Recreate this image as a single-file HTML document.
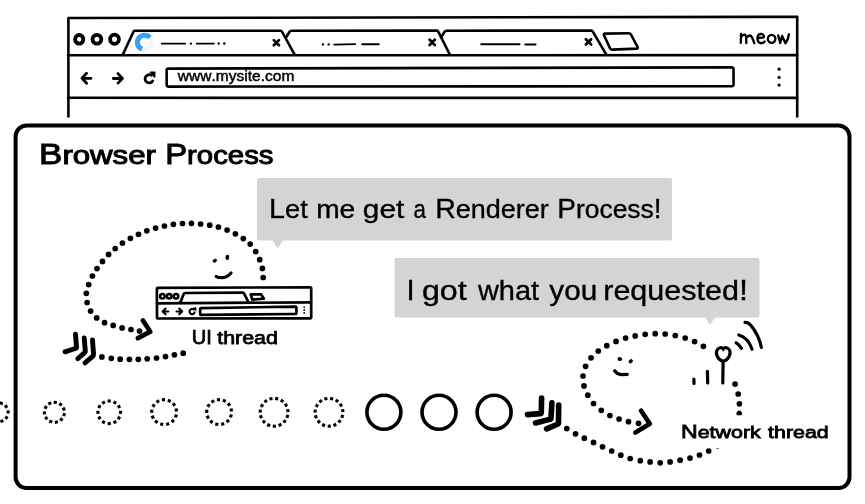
<!DOCTYPE html>
<html><head><meta charset="utf-8"><style>
html,body{margin:0;padding:0;background:#fff;width:865px;height:504px;overflow:hidden}
svg{display:block;will-change:transform}
text{font-family:"Liberation Sans",sans-serif}
</style></head><body>
<svg width="865" height="504" viewBox="0 0 865 504">
<g fill="none" stroke="#000" stroke-width="2.6" stroke-linecap="round" stroke-linejoin="round">
<path d="M68.4,116.5 L68.4,18 L797.2,16.8 L797.2,116.5"/>
<path d="M68,55.3 L797.2,55.1"/>
<path d="M68,97.8 L797.2,97.9"/>
<path d="M122.6,55 L133.6,31.5 Q134,30.8 135,30.8 L280.5,30.8 Q281.6,30.9 282.2,32 L294.6,54.6"/>
<path d="M286,37.6 L289.4,32 Q290.2,30.8 291.5,30.8 L436.8,30.6 Q437.9,30.7 438.4,31.8 L449.8,54.5"/>
<path d="M441,37.4 L444.4,32 Q445.2,30.8 446.5,30.7 L591.2,30.5 Q592.3,30.6 592.8,31.7 L606.3,54.6"/>
<path d="M605.2,33.6 L628.8,33.3 Q630.3,33.3 631,34.6 L637.6,47 Q638.2,48.5 636.5,48.6 L612.3,49.6 Q610.8,49.7 610.1,48.4 L604,35.3 Q603.4,33.7 605.2,33.6 Z"/>
<path d="M168.3,68.6 L731.5,67.4 Q733.4,67.4 733.5,69.3 L733.6,84.3 Q733.6,86.3 731.6,86.3 L168.5,86.6 Q166.7,86.6 166.7,84.8 L166.6,70.3 Q166.6,68.6 168.3,68.6 Z"/>
</g>
<ellipse cx="79.2" cy="39.3" rx="4.1" ry="4.3" fill="none" stroke="#000" stroke-width="3.8"/>
<ellipse cx="96.9" cy="39.3" rx="4.4" ry="4.4" fill="none" stroke="#000" stroke-width="3.8"/>
<ellipse cx="114.5" cy="39.3" rx="4.4" ry="4.6" fill="none" stroke="#000" stroke-width="3.8"/>
<path d="M149.95,37.58 A7.2,7.2 0 1 0 142.14,49.17" fill="none" stroke="#34a3f5" stroke-width="5.0"/>
<path d="M149.95,37.58 A7.2,7.2 0 0 1 142.14,49.17" fill="none" stroke="#f4f4f4" stroke-width="4"/>
<g stroke="#000" stroke-width="1.9" stroke-linecap="round" fill="none">
<path d="M161.8,43.6 L185.2,43.6 M196.7,43.6 L213.8,43.6"/>
<path d="M334.2,44.6 L355.2,44.1 M362.2,44.2 L378.8,44.2"/>
<path d="M481.2,44.3 L519.6,44.3 M525.2,44.5 L535.6,44.5"/>
</g>
<circle cx="190.9" cy="43.6" r="1.2" fill="#000"/>
<circle cx="218.7" cy="43.5" r="1.2" fill="#000"/>
<circle cx="224.3" cy="43.5" r="1.2" fill="#000"/>
<circle cx="323" cy="44.4" r="1.2" fill="#000"/>
<circle cx="328.7" cy="44.4" r="1.2" fill="#000"/>
<g stroke="#000" stroke-width="2.7" stroke-linecap="round">
<path d="M273.79999999999995,40.1 L279.0,45.300000000000004 M279.0,40.1 L273.79999999999995,45.300000000000004"/>
<path d="M429.59999999999997,39.8 L434.8,45.0 M434.8,39.8 L429.59999999999997,45.0"/>
<path d="M585.9,39.3 L591.1,44.5 M591.1,39.3 L585.9,44.5"/>
</g>
<g stroke="#000" stroke-width="2.8" stroke-linecap="round" stroke-linejoin="round" fill="none">
<path d="M86.6,73.3 L82,78.3 L86.6,83.2 M82,78.3 L91,78.3"/>
<path d="M118,73.6 L122.4,78.5 L118,83.1 M122.4,78.5 L113.3,78.5"/>
<path d="M151.25,75.25 A4.1,4.1 0 1 0 152.75,80.85"/>
</g>
<path d="M150.5,72.3 L154.8,72.2 L154.6,77 Z" fill="#000" stroke="#000" stroke-width="1.5" stroke-linejoin="round"/>
<circle cx="779.1" cy="69.2" r="1.6" fill="#000"/>
<circle cx="779.1" cy="77.4" r="1.6" fill="#000"/>
<circle cx="779.1" cy="85.1" r="1.6" fill="#000"/>
<g fill="none" stroke="#000" stroke-width="2.35" stroke-linecap="round" stroke-linejoin="round">
<path d="M741,34 L740.8,42.8 M741.1,37.2 Q742.8,34.3 744.9,34.6 Q746.4,35.2 746.3,43 M746.4,37.6 Q748.4,35.1 750.4,35.6 Q752.2,36.8 754.3,43.2"/>
<path d="M758.6,38 L763.8,37.3 Q764.5,34.6 761.2,33.9 Q757.5,33.9 757.4,38.5 Q757.6,43.2 761.5,43.2 Q763.5,43 764.6,41.5"/>
<ellipse cx="771.6" cy="38.8" rx="3.8" ry="4"/>
<path d="M778.2,35.5 L780.2,43 L782.1,36 L785.5,43.3 Q788,40 789,34.3"/>
</g>
<rect x="15.6" y="125.5" width="833.9" height="362.6" rx="11" ry="11" fill="#fff" stroke="#000" stroke-width="4"/>
<path d="M259,177.9 L670,177.9 Q672,177.9 672,179.9 L672,238.5 Q672,240.5 670,240.5 L283,240.5 L277.8,248.4 L272.6,240.5 L259,240.5 Q257,240.5 257,238.5 L257,179.9 Q257,177.9 259,177.9 Z" fill="#d4d4d4"/>
<path d="M396.5,258 L757.5,258 Q759.5,258 759.5,260 L759.5,315.5 Q759.5,317.5 757.5,317.5 L714.8,317.5 L710,325 L705.2,317.5 L396.5,317.5 Q394.5,317.5 394.5,315.5 L394.5,260 Q394.5,258 396.5,258 Z" fill="#d4d4d4"/>
<g font-family="Liberation Sans" fill="#000" style="font-kerning:none">
<text x="269.12" y="217.9" textLength="38.60" lengthAdjust="spacingAndGlyphs" stroke="#000" stroke-width="0.35"><tspan font-size="27.9">L</tspan><tspan font-size="26.4">et</tspan></text>
<text x="316.21" y="217.9" textLength="39.07" lengthAdjust="spacingAndGlyphs" stroke="#000" stroke-width="0.35"><tspan font-size="26.4">me</tspan></text>
<text x="362.82" y="217.9" textLength="41.42" lengthAdjust="spacingAndGlyphs" stroke="#000" stroke-width="0.35"><tspan font-size="26.4">get</tspan></text>
<text x="413.53" y="217.9" textLength="12.40" lengthAdjust="spacingAndGlyphs" stroke="#000" stroke-width="0.35"><tspan font-size="26.4">a</tspan></text>
<text x="435.23" y="217.9" textLength="113.64" lengthAdjust="spacingAndGlyphs" stroke="#000" stroke-width="0.35"><tspan font-size="27.9">R</tspan><tspan font-size="26.4">enderer</tspan></text>
<text x="557.28" y="217.9" textLength="104.28" lengthAdjust="spacingAndGlyphs" stroke="#000" stroke-width="0.35"><tspan font-size="27.9">P</tspan><tspan font-size="26.4">rocess</tspan><tspan font-size="27.9">!</tspan></text>
<text x="406.44" y="299.5" font-size="29.2" stroke="#000" stroke-width="0.35">I</text>
<text x="421.92" y="299.5" textLength="44.74" lengthAdjust="spacingAndGlyphs" stroke="#000" stroke-width="0.35"><tspan font-size="27.3">got</tspan></text>
<text x="477.92" y="299.5" textLength="61.22" lengthAdjust="spacingAndGlyphs" stroke="#000" stroke-width="0.35"><tspan font-size="27.3">what</tspan></text>
<text x="549.30" y="299.5" textLength="47.90" lengthAdjust="spacingAndGlyphs" stroke="#000" stroke-width="0.35"><tspan font-size="27.3">you</tspan></text>
<text x="603.25" y="299.5" textLength="144.74" lengthAdjust="spacingAndGlyphs" stroke="#000" stroke-width="0.35"><tspan font-size="27.3">requested</tspan><tspan font-size="29.2">!</tspan></text>
<text x="39.14" y="164.3" textLength="116.78" lengthAdjust="spacingAndGlyphs" stroke="#000" stroke-width="1.0"><tspan font-size="29.2">B</tspan><tspan font-size="26.1">rowser</tspan></text>
<text x="165.21" y="164.3" textLength="108.35" lengthAdjust="spacingAndGlyphs" stroke="#000" stroke-width="1.0"><tspan font-size="29.2">P</tspan><tspan font-size="26.1">rocess</tspan></text>
<text x="191.73" y="343.9" textLength="20.05" lengthAdjust="spacingAndGlyphs" stroke="#000" stroke-width="0.75"><tspan font-size="19.9">UI</tspan></text>
<text x="217.25" y="343.9" textLength="60.65" lengthAdjust="spacingAndGlyphs" stroke="#000" stroke-width="0.75"><tspan font-size="18.3">thread</tspan></text>
<text x="681.01" y="438" textLength="79.76" lengthAdjust="spacingAndGlyphs" stroke="#000" stroke-width="0.8"><tspan font-size="18.75">N</tspan><tspan font-size="17.4">etwork</tspan></text>
<text x="768.08" y="438" textLength="60.70" lengthAdjust="spacingAndGlyphs" stroke="#000" stroke-width="0.8"><tspan font-size="17.4">thread</tspan></text>
<text x="177.85" y="81.1" font-size="14.4" textLength="116.55" lengthAdjust="spacingAndGlyphs" stroke="#000" stroke-width="0.45">www.mysite.com</text>
</g>
<circle cx="263.2" cy="277.5" r="2.85" fill="#000"/>
<circle cx="262.4" cy="268.4" r="2.85" fill="#000"/>
<circle cx="259.7" cy="259.7" r="2.85" fill="#000"/>
<circle cx="255.7" cy="251.6" r="2.85" fill="#000"/>
<circle cx="250.2" cy="244.1" r="2.85" fill="#000"/>
<circle cx="243.3" cy="238.6" r="2.85" fill="#000"/>
<circle cx="235.4" cy="233.8" r="2.85" fill="#000"/>
<circle cx="227.1" cy="230" r="2.85" fill="#000"/>
<circle cx="218.4" cy="227.1" r="2.85" fill="#000"/>
<circle cx="209.7" cy="225.2" r="2.85" fill="#000"/>
<circle cx="200.6" cy="224" r="2.85" fill="#000"/>
<circle cx="191.4" cy="223.3" r="2.85" fill="#000"/>
<circle cx="182.5" cy="223.5" r="2.85" fill="#000"/>
<circle cx="173.4" cy="224.3" r="2.85" fill="#000"/>
<circle cx="164.4" cy="226" r="2.85" fill="#000"/>
<circle cx="155.6" cy="228.1" r="2.85" fill="#000"/>
<circle cx="146.8" cy="230.8" r="2.85" fill="#000"/>
<circle cx="138.5" cy="234.3" r="2.85" fill="#000"/>
<circle cx="130.4" cy="238.3" r="2.85" fill="#000"/>
<circle cx="122.4" cy="243.1" r="2.85" fill="#000"/>
<circle cx="115.2" cy="248.5" r="2.85" fill="#000"/>
<circle cx="108.6" cy="254.4" r="2.85" fill="#000"/>
<circle cx="102.5" cy="261.4" r="2.85" fill="#000"/>
<circle cx="97" cy="268.6" r="2.85" fill="#000"/>
<circle cx="92.4" cy="276" r="2.85" fill="#000"/>
<circle cx="88.7" cy="284.6" r="2.85" fill="#000"/>
<circle cx="86.3" cy="293.3" r="2.85" fill="#000"/>
<circle cx="87.1" cy="302.5" r="2.85" fill="#000"/>
<circle cx="90.6" cy="311.1" r="2.85" fill="#000"/>
<circle cx="96.7" cy="317.9" r="2.85" fill="#000"/>
<circle cx="104.6" cy="322.7" r="2.85" fill="#000"/>
<circle cx="113.2" cy="325.4" r="2.85" fill="#000"/>
<circle cx="122.1" cy="327.9" r="2.85" fill="#000"/>
<circle cx="131" cy="329.5" r="2.85" fill="#000"/>
<circle cx="139.5" cy="331.1" r="2.85" fill="#000"/>
<circle cx="101.9" cy="356.9" r="2.85" fill="#000"/>
<circle cx="111.3" cy="358.3" r="2.85" fill="#000"/>
<circle cx="120.2" cy="359.2" r="2.85" fill="#000"/>
<circle cx="129.4" cy="359.3" r="2.85" fill="#000"/>
<circle cx="138.3" cy="359.3" r="2.85" fill="#000"/>
<circle cx="147.2" cy="358.8" r="2.85" fill="#000"/>
<circle cx="156.5" cy="358" r="2.85" fill="#000"/>
<circle cx="165.5" cy="356.6" r="2.85" fill="#000"/>
<circle cx="174.4" cy="354.8" r="2.85" fill="#000"/>
<circle cx="183.2" cy="353.2" r="2.85" fill="#000"/>
<circle cx="703.4" cy="346.3" r="2.85" fill="#000"/>
<circle cx="694.6" cy="341.6" r="2.85" fill="#000"/>
<circle cx="685.2" cy="338" r="2.85" fill="#000"/>
<circle cx="675.3" cy="335.5" r="2.85" fill="#000"/>
<circle cx="665.2" cy="334" r="2.85" fill="#000"/>
<circle cx="655.2" cy="333.7" r="2.85" fill="#000"/>
<circle cx="645.2" cy="334.3" r="2.85" fill="#000"/>
<circle cx="635.2" cy="335.9" r="2.85" fill="#000"/>
<circle cx="625.6" cy="338.1" r="2.85" fill="#000"/>
<circle cx="616" cy="341.4" r="2.85" fill="#000"/>
<circle cx="606.8" cy="345.7" r="2.85" fill="#000"/>
<circle cx="598.3" cy="351" r="2.85" fill="#000"/>
<circle cx="591" cy="357.8" r="2.85" fill="#000"/>
<circle cx="585.6" cy="366.3" r="2.85" fill="#000"/>
<circle cx="583" cy="376" r="2.85" fill="#000"/>
<circle cx="584" cy="385.9" r="2.85" fill="#000"/>
<circle cx="587.8" cy="395.2" r="2.85" fill="#000"/>
<circle cx="593.5" cy="403.5" r="2.85" fill="#000"/>
<circle cx="601.3" cy="410.3" r="2.85" fill="#000"/>
<circle cx="609.9" cy="415.5" r="2.85" fill="#000"/>
<circle cx="619.1" cy="419.1" r="2.85" fill="#000"/>
<circle cx="628.5" cy="421.7" r="2.85" fill="#000"/>
<circle cx="638.5" cy="423.3" r="2.85" fill="#000"/>
<circle cx="566.8" cy="428.6" r="2.85" fill="#000"/>
<circle cx="575.5" cy="433.8" r="2.85" fill="#000"/>
<circle cx="584.3" cy="438.2" r="2.85" fill="#000"/>
<circle cx="593.5" cy="442.4" r="2.85" fill="#000"/>
<circle cx="602.5" cy="446.8" r="2.85" fill="#000"/>
<circle cx="611.7" cy="451" r="2.85" fill="#000"/>
<circle cx="620.8" cy="455.2" r="2.85" fill="#000"/>
<circle cx="630.2" cy="458.5" r="2.85" fill="#000"/>
<circle cx="640.3" cy="460.7" r="2.85" fill="#000"/>
<circle cx="650.1" cy="461.9" r="2.85" fill="#000"/>
<circle cx="660.2" cy="462.8" r="2.85" fill="#000"/>
<circle cx="670.1" cy="461.9" r="2.85" fill="#000"/>
<circle cx="680.1" cy="460.2" r="2.85" fill="#000"/>
<circle cx="690" cy="458.1" r="2.85" fill="#000"/>
<circle cx="699.5" cy="455" r="2.85" fill="#000"/>
<circle cx="708.7" cy="451" r="2.85" fill="#000"/>
<ellipse cx="717.6" cy="448.4" rx="1.6" ry="0.55" fill="#777"/>
<circle cx="735.1" cy="384.1" r="2.85" fill="#000"/>
<circle cx="738.2" cy="394" r="2.85" fill="#000"/>
<circle cx="739.4" cy="403.8" r="2.85" fill="#000"/>
<path d="M736.85,415.3 A2.9,2.9 0 1 1 741.55,415.3 Z" fill="#000"/>
<g stroke="#000" stroke-width="4.7" stroke-linecap="round" stroke-linejoin="round" fill="none">
<path d="M142.9,320.5 L150.3,331.7 L137.9,338.2"/>
<path d="M641.1,410.8 L649.8,423.8 L635.4,432.5"/>
</g>
<g stroke="#000" stroke-width="4.9" stroke-linecap="round" stroke-linejoin="round" fill="none">
<path d="M75.5,334.3 L76.5,347 Q76.6,348.3 75.2,348.5 L65,351.8"/>
<path d="M84.2,337.9 L85.3,351 Q85.4,352 84.6,352.7 L77.8,358.6"/>
<path d="M92.5,339.9 L93.6,354.5 Q93.7,355.5 92.9,356.2 L85,362.9"/>
</g>
<g stroke="#000" stroke-width="5.6" stroke-linecap="round" stroke-linejoin="round" fill="none">
<path d="M541.6,398 L541.3,412.4 Q541.2,413.5 540,413.6 L527.5,414.6"/>
<path d="M551.9,402.7 L551,418 Q550.9,419.2 549.7,419.4 L535.5,423"/>
<path d="M558.7,405.1 L558.5,422.7 Q558.5,423.8 557.4,424.2 L546.6,428.9"/>
</g>
<rect x="-0.26" y="401.71" width="3.1" height="3.1" fill="#000" transform="rotate(-74.0 1.29 403.26)"/>
<rect x="4.56" y="404.96" width="3.1" height="3.1" fill="#000" transform="rotate(-38.0 6.11 406.51)"/>
<rect x="6.54" y="410.42" width="3.1" height="3.1" fill="#000" transform="rotate(-2.0 8.09 411.97)"/>
<rect x="4.94" y="416.01" width="3.1" height="3.1" fill="#000" transform="rotate(34.0 6.49 417.56)"/>
<rect x="0.36" y="419.58" width="3.1" height="3.1" fill="#000" transform="rotate(70.0 1.91 421.13)"/>
<rect x="-5.44" y="419.79" width="3.1" height="3.1" fill="#000" transform="rotate(106.0 -3.89 421.34)"/>
<rect x="-10.26" y="416.54" width="3.1" height="3.1" fill="#000" transform="rotate(142.0 -8.71 418.09)"/>
<rect x="-12.24" y="411.08" width="3.1" height="3.1" fill="#000" transform="rotate(178.0 -10.69 412.63)"/>
<rect x="-10.64" y="405.49" width="3.1" height="3.1" fill="#000" transform="rotate(214.0 -9.09 407.04)"/>
<rect x="-6.06" y="401.92" width="3.1" height="3.1" fill="#000" transform="rotate(250.0 -4.51 403.47)"/>
<rect x="53.72" y="400.79" width="3.1" height="3.1" fill="#000" transform="rotate(-85.0 55.27 402.34)"/>
<rect x="58.97" y="402.84" width="3.1" height="3.1" fill="#000" transform="rotate(-52.3 60.52 404.39)"/>
<rect x="62.27" y="407.40" width="3.1" height="3.1" fill="#000" transform="rotate(-19.5 63.82 408.95)"/>
<rect x="62.59" y="413.03" width="3.1" height="3.1" fill="#000" transform="rotate(13.2 64.14 414.58)"/>
<rect x="59.81" y="417.93" width="3.1" height="3.1" fill="#000" transform="rotate(45.9 61.36 419.48)"/>
<rect x="54.82" y="420.55" width="3.1" height="3.1" fill="#000" transform="rotate(78.6 56.37 422.10)"/>
<rect x="49.21" y="420.06" width="3.1" height="3.1" fill="#000" transform="rotate(111.4 50.76 421.61)"/>
<rect x="44.75" y="416.62" width="3.1" height="3.1" fill="#000" transform="rotate(144.1 46.30 418.17)"/>
<rect x="42.87" y="411.31" width="3.1" height="3.1" fill="#000" transform="rotate(176.8 44.42 412.86)"/>
<rect x="44.15" y="405.82" width="3.1" height="3.1" fill="#000" transform="rotate(209.5 45.70 407.37)"/>
<rect x="48.20" y="401.90" width="3.1" height="3.1" fill="#000" transform="rotate(242.3 49.75 403.45)"/>
<rect x="107.65" y="399.45" width="3.1" height="3.1" fill="#000" transform="rotate(-90.0 109.20 401.00)"/>
<rect x="113.30" y="400.96" width="3.1" height="3.1" fill="#000" transform="rotate(-60.0 114.85 402.51)"/>
<rect x="117.44" y="405.10" width="3.1" height="3.1" fill="#000" transform="rotate(-30.0 118.99 406.65)"/>
<rect x="118.95" y="410.75" width="3.1" height="3.1" fill="#000" transform="rotate(0.0 120.50 412.30)"/>
<rect x="117.44" y="416.40" width="3.1" height="3.1" fill="#000" transform="rotate(30.0 118.99 417.95)"/>
<rect x="113.30" y="420.54" width="3.1" height="3.1" fill="#000" transform="rotate(60.0 114.85 422.09)"/>
<rect x="107.65" y="422.05" width="3.1" height="3.1" fill="#000" transform="rotate(90.0 109.20 423.60)"/>
<rect x="102.00" y="420.54" width="3.1" height="3.1" fill="#000" transform="rotate(120.0 103.55 422.09)"/>
<rect x="97.86" y="416.40" width="3.1" height="3.1" fill="#000" transform="rotate(150.0 99.41 417.95)"/>
<rect x="96.35" y="410.75" width="3.1" height="3.1" fill="#000" transform="rotate(180.0 97.90 412.30)"/>
<rect x="97.86" y="405.10" width="3.1" height="3.1" fill="#000" transform="rotate(210.0 99.41 406.65)"/>
<rect x="102.00" y="400.96" width="3.1" height="3.1" fill="#000" transform="rotate(240.0 103.55 402.51)"/>
<rect x="161.90" y="398.17" width="3.1" height="3.1" fill="#000" transform="rotate(-93.0 163.45 399.72)"/>
<rect x="167.73" y="399.28" width="3.1" height="3.1" fill="#000" transform="rotate(-65.3 169.28 400.83)"/>
<rect x="172.37" y="402.98" width="3.1" height="3.1" fill="#000" transform="rotate(-37.6 173.92 404.53)"/>
<rect x="174.76" y="408.41" width="3.1" height="3.1" fill="#000" transform="rotate(-9.9 176.31 409.96)"/>
<rect x="174.36" y="414.33" width="3.1" height="3.1" fill="#000" transform="rotate(17.8 175.91 415.88)"/>
<rect x="171.25" y="419.39" width="3.1" height="3.1" fill="#000" transform="rotate(45.5 172.80 420.94)"/>
<rect x="166.14" y="422.42" width="3.1" height="3.1" fill="#000" transform="rotate(73.2 167.69 423.97)"/>
<rect x="160.22" y="422.73" width="3.1" height="3.1" fill="#000" transform="rotate(100.8 161.77 424.28)"/>
<rect x="154.82" y="420.25" width="3.1" height="3.1" fill="#000" transform="rotate(128.5 156.37 421.80)"/>
<rect x="151.20" y="415.55" width="3.1" height="3.1" fill="#000" transform="rotate(156.2 152.75 417.10)"/>
<rect x="150.18" y="409.70" width="3.1" height="3.1" fill="#000" transform="rotate(183.9 151.73 411.25)"/>
<rect x="151.99" y="404.05" width="3.1" height="3.1" fill="#000" transform="rotate(211.6 153.54 405.60)"/>
<rect x="156.22" y="399.89" width="3.1" height="3.1" fill="#000" transform="rotate(239.3 157.77 401.44)"/>
<rect x="216.90" y="398.17" width="3.1" height="3.1" fill="#000" transform="rotate(-93.0 218.45 399.72)"/>
<rect x="222.73" y="399.28" width="3.1" height="3.1" fill="#000" transform="rotate(-65.3 224.28 400.83)"/>
<rect x="227.37" y="402.98" width="3.1" height="3.1" fill="#000" transform="rotate(-37.6 228.92 404.53)"/>
<rect x="229.76" y="408.41" width="3.1" height="3.1" fill="#000" transform="rotate(-9.9 231.31 409.96)"/>
<rect x="229.36" y="414.33" width="3.1" height="3.1" fill="#000" transform="rotate(17.8 230.91 415.88)"/>
<rect x="226.25" y="419.39" width="3.1" height="3.1" fill="#000" transform="rotate(45.5 227.80 420.94)"/>
<rect x="221.14" y="422.42" width="3.1" height="3.1" fill="#000" transform="rotate(73.2 222.69 423.97)"/>
<rect x="215.22" y="422.73" width="3.1" height="3.1" fill="#000" transform="rotate(100.8 216.77 424.28)"/>
<rect x="209.82" y="420.25" width="3.1" height="3.1" fill="#000" transform="rotate(128.5 211.37 421.80)"/>
<rect x="206.20" y="415.55" width="3.1" height="3.1" fill="#000" transform="rotate(156.2 207.75 417.10)"/>
<rect x="205.18" y="409.70" width="3.1" height="3.1" fill="#000" transform="rotate(183.9 206.73 411.25)"/>
<rect x="206.99" y="404.05" width="3.1" height="3.1" fill="#000" transform="rotate(211.6 208.54 405.60)"/>
<rect x="211.22" y="399.89" width="3.1" height="3.1" fill="#000" transform="rotate(239.3 212.77 401.44)"/>
<rect x="275.20" y="397.11" width="3.1" height="3.1" fill="#000" transform="rotate(-79.0 276.75 398.66)"/>
<rect x="280.52" y="399.36" width="3.1" height="3.1" fill="#000" transform="rotate(-55.0 282.07 400.91)"/>
<rect x="284.46" y="403.59" width="3.1" height="3.1" fill="#000" transform="rotate(-31.0 286.01 405.14)"/>
<rect x="286.35" y="409.06" width="3.1" height="3.1" fill="#000" transform="rotate(-7.0 287.90 410.61)"/>
<rect x="285.84" y="414.81" width="3.1" height="3.1" fill="#000" transform="rotate(17.0 287.39 416.36)"/>
<rect x="283.04" y="419.87" width="3.1" height="3.1" fill="#000" transform="rotate(41.0 284.59 421.42)"/>
<rect x="278.42" y="423.35" width="3.1" height="3.1" fill="#000" transform="rotate(65.0 279.97 424.90)"/>
<rect x="272.79" y="424.65" width="3.1" height="3.1" fill="#000" transform="rotate(89.0 274.34 426.20)"/>
<rect x="267.12" y="423.55" width="3.1" height="3.1" fill="#000" transform="rotate(113.0 268.67 425.10)"/>
<rect x="262.38" y="420.23" width="3.1" height="3.1" fill="#000" transform="rotate(137.0 263.93 421.78)"/>
<rect x="259.41" y="415.28" width="3.1" height="3.1" fill="#000" transform="rotate(161.0 260.96 416.83)"/>
<rect x="258.70" y="409.54" width="3.1" height="3.1" fill="#000" transform="rotate(185.0 260.25 411.09)"/>
<rect x="260.39" y="404.01" width="3.1" height="3.1" fill="#000" transform="rotate(209.0 261.94 405.56)"/>
<rect x="264.18" y="399.65" width="3.1" height="3.1" fill="#000" transform="rotate(233.0 265.73 401.20)"/>
<rect x="269.42" y="397.21" width="3.1" height="3.1" fill="#000" transform="rotate(257.0 270.97 398.76)"/>
<rect x="330.10" y="397.11" width="3.1" height="3.1" fill="#000" transform="rotate(-79.0 331.65 398.66)"/>
<rect x="335.42" y="399.36" width="3.1" height="3.1" fill="#000" transform="rotate(-55.0 336.97 400.91)"/>
<rect x="339.36" y="403.59" width="3.1" height="3.1" fill="#000" transform="rotate(-31.0 340.91 405.14)"/>
<rect x="341.25" y="409.06" width="3.1" height="3.1" fill="#000" transform="rotate(-7.0 342.80 410.61)"/>
<rect x="340.74" y="414.81" width="3.1" height="3.1" fill="#000" transform="rotate(17.0 342.29 416.36)"/>
<rect x="337.94" y="419.87" width="3.1" height="3.1" fill="#000" transform="rotate(41.0 339.49 421.42)"/>
<rect x="333.32" y="423.35" width="3.1" height="3.1" fill="#000" transform="rotate(65.0 334.87 424.90)"/>
<rect x="327.69" y="424.65" width="3.1" height="3.1" fill="#000" transform="rotate(89.0 329.24 426.20)"/>
<rect x="322.02" y="423.55" width="3.1" height="3.1" fill="#000" transform="rotate(113.0 323.57 425.10)"/>
<rect x="317.28" y="420.23" width="3.1" height="3.1" fill="#000" transform="rotate(137.0 318.83 421.78)"/>
<rect x="314.31" y="415.28" width="3.1" height="3.1" fill="#000" transform="rotate(161.0 315.86 416.83)"/>
<rect x="313.60" y="409.54" width="3.1" height="3.1" fill="#000" transform="rotate(185.0 315.15 411.09)"/>
<rect x="315.29" y="404.01" width="3.1" height="3.1" fill="#000" transform="rotate(209.0 316.84 405.56)"/>
<rect x="319.08" y="399.65" width="3.1" height="3.1" fill="#000" transform="rotate(233.0 320.63 401.20)"/>
<rect x="324.32" y="397.21" width="3.1" height="3.1" fill="#000" transform="rotate(257.0 325.87 398.76)"/>
<circle cx="383.9" cy="412.2" r="17" fill="none" stroke="#000" stroke-width="3.6"/>
<circle cx="439" cy="412.2" r="17" fill="none" stroke="#000" stroke-width="3.6"/>
<circle cx="494.1" cy="412.2" r="17" fill="none" stroke="#000" stroke-width="3.6"/>
<g fill="none" stroke="#000" stroke-width="2.7" stroke-linecap="round" stroke-linejoin="round">
<path d="M157.6,287.8 L310,287.3 Q311.2,287.3 311.2,288.5 L311.2,317.2 Q311.2,318.3 310,318.3 L158.2,318.5 Q157,318.5 157,317.3 L156.9,289 Q156.9,287.8 157.6,287.8 Z"/>
<path d="M157,303.3 L311,302.4"/>
<path d="M180.2,302.8 L183.6,294.3 Q184.1,293 185.4,293 L242.5,292.7 Q243.6,292.7 244.1,293.7 L248.3,301.8"/>
<path d="M201.2,308.1 L295.2,306.6 Q296.4,306.6 296.4,307.8 L296.4,312.8 Q296.4,314 295.2,314 L201.4,314.9 Q200.2,314.9 200.2,313.7 L200.1,309.3 Q200.1,308.1 201.2,308.1 Z"/>
</g>
<path d="M250.7,294.4 L261.1,294.3 L263.9,298.6 L252.3,299.6 Z" fill="none" stroke="#000" stroke-width="2.6" stroke-linejoin="round"/>
<circle cx="162.4" cy="296.3" r="2.3" fill="none" stroke="#000" stroke-width="2.5"/>
<circle cx="169.2" cy="296.3" r="2.3" fill="none" stroke="#000" stroke-width="2.5"/>
<circle cx="176" cy="296.3" r="2.3" fill="none" stroke="#000" stroke-width="2.5"/>
<g stroke="#000" stroke-width="2.1" stroke-linecap="round" stroke-linejoin="round" fill="none">
<path d="M165.6,308.6 L162.6,311.5 L165.6,314.3 M162.6,311.5 L168.3,311.5"/>
<path d="M179.2,308.6 L182.2,311.5 L179.2,314.3 M182.2,311.5 L176.5,311.5"/>
<path d="M193.6,309.4 A2.6,2.6 0 1 0 194.6,312.4"/>
</g>
<path d="M193.3,308 L196,307.8 L195.8,310.6 Z" fill="#000" stroke="#000" stroke-width="1"/>
<circle cx="304.2" cy="307.1" r="0.95" fill="#000"/>
<circle cx="304.2" cy="310" r="0.95" fill="#000"/>
<circle cx="304.2" cy="312.9" r="0.95" fill="#000"/>
<g stroke="#000" stroke-linecap="round" fill="none">
<path d="M214.3,261 L215.3,260.4" stroke-width="3.3"/>
<path d="M227.4,256.6 L227.2,258.3" stroke-width="3.5"/>
<path d="M216.2,276.4 Q218,277.8 222.5,277.7 Q227.5,277.3 231,273" stroke-width="3.2"/>
<path d="M619.4,359 L620.2,359.1" stroke-width="3.9"/>
<path d="M630.4,361.6 L631.1,360.9" stroke-width="3.6"/>
<path d="M614.7,370.9 Q617,374.4 621.5,374.6 L627.2,374.4" stroke-width="3.4"/>
</g>
<g stroke="#000" stroke-linecap="round" fill="none" stroke-width="3.2">
<path d="M723.2,361.6 C717.2,359.5 715.5,353.5 716.9,350.5 C718.4,347.2 721.8,347 723.3,349 C724.8,347 728.4,347.2 729.6,350.4 C731,353.5 729.2,359.5 723.2,361.6 Z"/>
<path d="M723.1,361.5 L722.8,383"/>
<path d="M693.9,379 L694,383.5"/>
<path d="M707.4,371.4 L707.7,383"/>
<path d="M736.2,342.8 Q739.6,344.8 741.4,348.4"/>
<path d="M738.8,335 Q748,337.5 752.1,349.3"/>
<path d="M745,322.4 Q748,321.8 751,325.6 Q759,335.5 761.4,347.5"/>
</g>
</svg>
</body></html>
